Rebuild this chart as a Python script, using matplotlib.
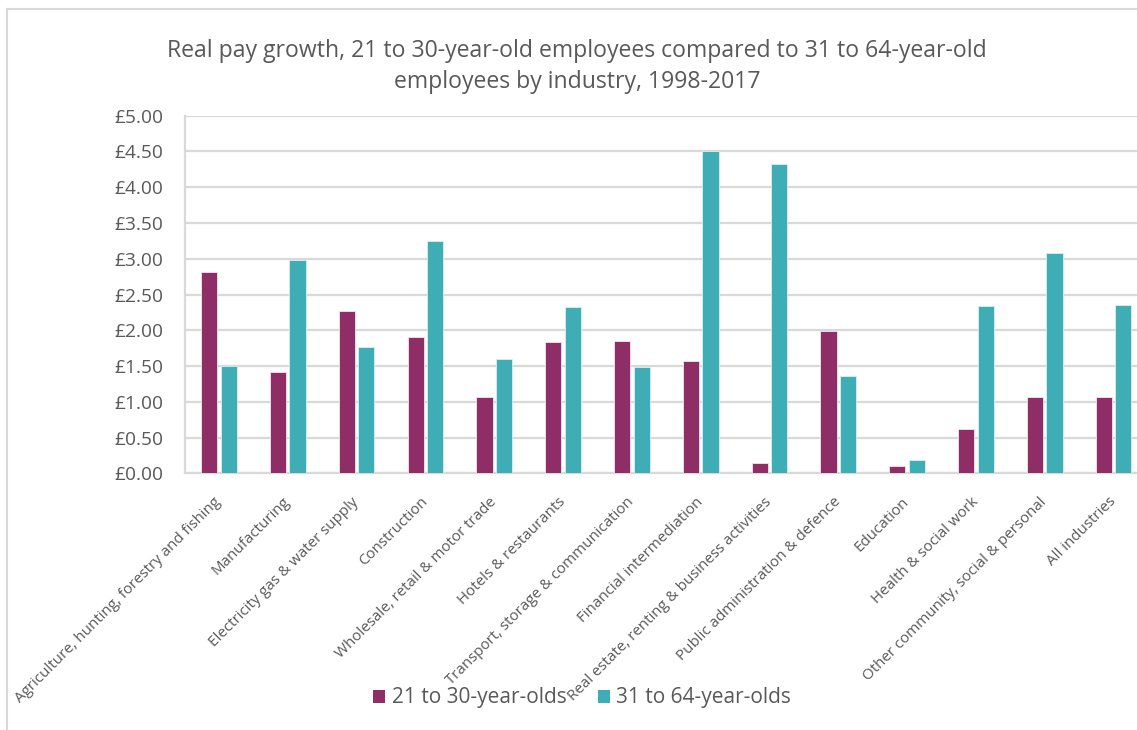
import matplotlib
matplotlib.use("Agg")
import matplotlib.pyplot as plt
from matplotlib.patches import Patch
import numpy as np

plt.rcParams['font.family'] = ['Open Sans', 'DejaVu Sans']

industries = [
    "Agriculture, hunting, forestry and fishing",
    "Manufacturing",
    "Electricity gas & water supply",
    "Construction",
    "Wholesale, retail & motor trade",
    "Hotels & restaurants",
    "Transport, storage & communication",
    "Financial intermediation",
    "Real estate, renting & business activities",
    "Public administration & defence",
    "Education",
    "Health & social work",
    "Other community, social & personal",
    "All industries",
]
young = [2.81, 1.42, 2.27, 1.90, 1.06, 1.84, 1.85, 1.57, 0.15, 1.99, 0.10, 0.62, 1.07, 1.07]
older = [1.50, 2.98, 1.77, 3.25, 1.60, 2.32, 1.49, 4.50, 4.33, 1.36, 0.19, 2.34, 3.08, 2.36]
series_names = ["21 to 30-year-olds", "31 to 64-year-olds"]
yticks = [0.0, 0.5, 1.0, 1.5, 2.0, 2.5, 3.0, 3.5, 4.0, 4.5, 5.0]
title = ("Real pay growth, 21 to 30-year-old employees compared to 31 to 64-year-old\n"
         "employees by industry, 1998-2017")

PURPLE = "#8E2D66"
TEAL = "#3FADB6"
TEXT = "#595959"
GRID = "#D9D9D9"

W, H = 1137, 730
fig = plt.figure(figsize=(W / 100, H / 100), dpi=100)

# outer chart frame (left and top edges visible)
fig.add_artist(plt.Line2D([7 / W, 7 / W], [0, 1 - 9 / H], color=GRID, lw=1.5))
fig.add_artist(plt.Line2D([7 / W, 1], [1 - 9 / H, 1 - 9 / H], color=GRID, lw=1.5))

left, right = 184.5, 1148
bottom, top = 473.3, 115.7
ax = fig.add_axes([left / W, 1 - bottom / H, (right - left) / W, (bottom - top) / H])

x = np.arange(len(industries))
bw = 0.235
off = 0.142
ax.bar(x - off, young, width=bw, color=PURPLE, edgecolor="#F2E6EE", linewidth=0.6, zorder=3)
ax.bar(x + off, older, width=bw, color=TEAL, edgecolor="#D9F0F2", linewidth=0.6, zorder=3)

ax.set_xlim(-0.5, len(industries) - 0.5)
ax.set_ylim(0, 5.0)
ax.set_yticks(yticks)
ax.set_yticklabels([f"£{v:.2f}" for v in yticks], fontsize=13.8, color=TEXT)
ax.tick_params(axis="y", length=0, pad=15)
ax.yaxis.grid(True, color=GRID, lw=1.6, zorder=0)
ax.set_axisbelow(True)

ax.set_xticks(x)
ax.set_xticklabels(industries, rotation=45, ha="right", va="center",
                   rotation_mode="anchor", fontsize=10.9, color=TEXT)
ax.tick_params(axis="x", length=0, pad=19)

for s in ["top", "right"]:
    ax.spines[s].set_visible(False)
for s in ["left", "bottom"]:
    ax.spines[s].set_color(GRID)
    ax.spines[s].set_linewidth(1.6)

# baseline of the second title line
fig.text(577 / W, 1 - 88.3 / H, title, ha="center", va="baseline",
         fontsize=16.6, color=TEXT, linespacing=1.42)

handles = [Patch(facecolor=PURPLE), Patch(facecolor=TEAL)]
fig.legend(handles, series_names, loc="center", bbox_to_anchor=(582 / W, 1 - 698 / H),
           ncol=2, frameon=False, fontsize=15, labelcolor=TEXT,
           handlelength=0.6, handleheight=0.6, handletextpad=0.3, columnspacing=1.5)

fig.savefig("out.png", dpi=100, facecolor="white")
